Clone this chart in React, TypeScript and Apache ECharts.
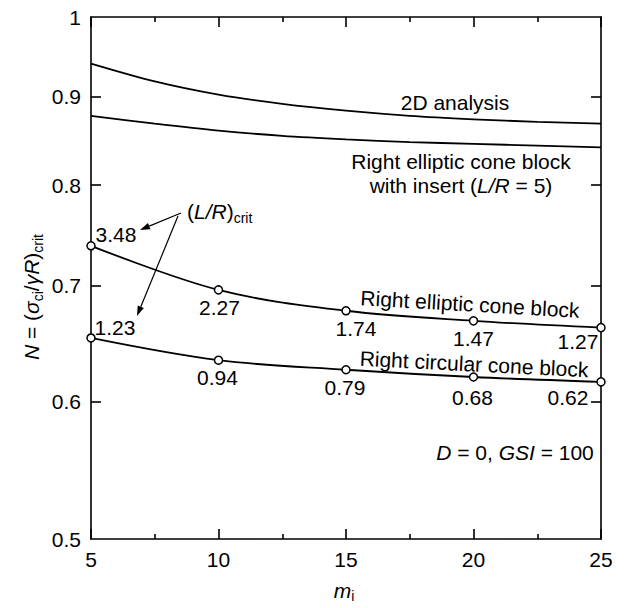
import React, { useEffect, useRef } from 'react';
import * as echarts from 'echarts';

// ---- data ----
const miDense = [5, 7.5, 10, 12.5, 15, 17.5, 20, 22.5, 25];
const n2D = [0.94, 0.918, 0.902, 0.891, 0.883, 0.877, 0.873, 0.87, 0.868];
const nInsert = [0.877, 0.868, 0.86, 0.854, 0.85, 0.847, 0.845, 0.843, 0.841];
const miPoints = [5, 10, 15, 20, 25];
const nElliptic = [0.738, 0.696, 0.677, 0.668, 0.662];
const nCircular = [0.653, 0.634, 0.626, 0.62, 0.616];
const lrElliptic = ['3.48', '2.27', '1.74', '1.47', '1.27'];
const lrCircular = ['1.23', '0.94', '0.79', '0.68', '0.62'];
const yLabelValues = [0.5, 0.6, 0.7, 0.8, 0.9, 1];
const yTickValues = [0.6, 0.7, 0.8, 0.9];

// label offsets (style)
const offElliptic = [[25, -11], [1, 18], [10, 18], [0, 18], [-23, 14]];
const offCircular = [[24, -10], [-1, 17], [-1, 18], [-1, 20], [-33, 16]];

const FONT = '"Liberation Sans", Arial, Helvetica, sans-serif';
const BLACK = '#000';
const FS = 21;

const richBase = {
  it: { fontStyle: 'italic', fontSize: FS, fontFamily: FONT, fill: BLACK },
  n: { fontSize: FS, fontFamily: FONT, fill: BLACK },
  sub: { fontSize: 14, fontFamily: FONT, fill: BLACK, padding: [14, 0, 0, 0] },
  subs: { fontSize: 14, fontFamily: FONT, fill: BLACK, padding: [12, 0, 0, 0] },
};

function arrow(x1: number, y1: number, x2: number, y2: number) {
  const a = Math.atan2(y2 - y1, x2 - x1);
  const L = 10;
  const W = 3.3;
  const bx = x2 - L * Math.cos(a);
  const by = y2 - L * Math.sin(a);
  const px = -Math.sin(a);
  const py = Math.cos(a);
  return [
    { type: 'line', shape: { x1, y1, x2: bx, y2: by }, style: { stroke: BLACK, lineWidth: 1.2 }, z: 10 },
    {
      type: 'polygon',
      shape: { points: [[x2, y2], [bx + W * px, by + W * py], [bx - W * px, by - W * py]] },
      style: { fill: BLACK },
      z: 10,
    },
  ];
}

function textEl(x: number, y: number, text: string, opts: any = {}) {
  return {
    type: 'text',
    x,
    y,
    rotation: opts.rotation || 0,
    z: 10,
    style: {
      text,
      rich: richBase,
      fontSize: FS,
      fontFamily: FONT,
      fill: BLACK,
      align: opts.align || 'center',
      verticalAlign: 'middle',
      lineHeight: opts.lineHeight,
    },
  };
}

function pointSeries(name: string, ys: number[], labels: string[], offs: number[][]) {
  return {
    type: 'line',
    name,
    smooth: 0.35,
    clip: false,
    symbol: 'circle',
    symbolSize: 8,
    showSymbol: true,
    itemStyle: { color: '#fff', borderColor: BLACK, borderWidth: 1.5 },
    lineStyle: { color: BLACK, width: 1.8 },
    z: 3,
    data: miPoints.map((m, i) => ({
      value: [m, ys[i]],
      label: {
        show: true,
        formatter: labels[i],
        position: 'inside',
        offset: offs[i],
        color: BLACK,
        fontSize: FS,
        fontFamily: FONT,
      },
    })),
  };
}

function curveSeries(name: string, ys: number[]) {
  return {
    type: 'line',
    name,
    smooth: 0.3,
    clip: false,
    showSymbol: false,
    symbol: 'none',
    lineStyle: { color: BLACK, width: 1.8 },
    z: 2,
    data: miDense.map((m, i) => [m, ys[i]]),
  };
}

const axisLineStyle = { color: BLACK, width: 1.6 };

function xAxisDef(position: 'top' | 'bottom', showLabel: boolean) {
  return {
    type: 'value',
    position,
    min: 5,
    max: 25,
    interval: 5,
    axisLine: { show: true, onZero: false, lineStyle: axisLineStyle },
    axisTick: { show: true, inside: true, length: 10, lineStyle: axisLineStyle },
    minorTick: { show: true, splitNumber: 2, length: 5, lineStyle: axisLineStyle },
    axisLabel: { show: showLabel, color: BLACK, fontSize: FS, fontFamily: FONT, margin: 10 },
    splitLine: { show: false },
    minorSplitLine: { show: false },
  };
}

function yAxisDef(position: 'left' | 'right', showLabel: boolean) {
  return {
    type: 'log',
    logBase: 10,
    position,
    min: 0.5,
    max: 1,
    axisLine: { show: true, onZero: false, lineStyle: axisLineStyle },
    axisTick: { show: true, inside: true, length: 10, lineStyle: axisLineStyle, customValues: yTickValues },
    minorTick: { show: false },
    axisLabel: {
      show: showLabel,
      customValues: yLabelValues,
      formatter: (v: number) => String(+Number(v).toFixed(2)),
      color: BLACK,
      fontSize: FS,
      fontFamily: FONT,
      margin: 10,
      showMinLabel: true,
      showMaxLabel: true,
    },
    splitLine: { show: false },
    minorSplitLine: { show: false },
  };
}

export default function App() {
  const ref = useRef<HTMLDivElement>(null);
  useEffect(() => {
    document.body.style.margin = '0';
    if (!ref.current) return;
    const chart = echarts.init(ref.current, undefined, { renderer: 'svg' });
    const graphics: any[] = [
      textEl(31, 297, '{it|N} = ({it|σ}{sub|ci}/{it|γR}){sub|crit}', { rotation: Math.PI / 2 }),
      textEl(344, 590, '{it|m}{subs|i}'),
      textEl(455, 102, '2D analysis'),
      textEl(461, 173, 'Right elliptic cone block\nwith insert ({it|L/R} = 5)', { lineHeight: 24 }),
      textEl(470, 304, 'Right elliptic cone block', { rotation: -0.058 }),
      textEl(474, 364, 'Right circular cone block', { rotation: -0.05 }),
      textEl(187, 211, '({it|L/R}){sub|crit}', { align: 'left' }),
      textEl(515, 452, '{it|D} = 0, {it|GSI} = 100'),
      ...arrow(181, 213, 140, 230),
      ...arrow(178, 216, 137, 316),
    ];
    chart.setOption({
      animation: false,
      backgroundColor: '#fff',
      grid: { left: 91, right: 34, top: 17, bottom: 69, containLabel: false },
      xAxis: [xAxisDef('bottom', true), xAxisDef('top', false)],
      yAxis: [yAxisDef('left', true), yAxisDef('right', false)],
      series: [
        curveSeries('2D analysis', n2D),
        curveSeries('Right elliptic cone block with insert', nInsert),
        pointSeries('Right elliptic cone block', nElliptic, lrElliptic, offElliptic),
        pointSeries('Right circular cone block', nCircular, lrCircular, offCircular),
      ],
      graphic: graphics,
    });
    return () => chart.dispose();
  }, []);
  return <div ref={ref} style={{ width: 635, height: 608 }} />;
}
